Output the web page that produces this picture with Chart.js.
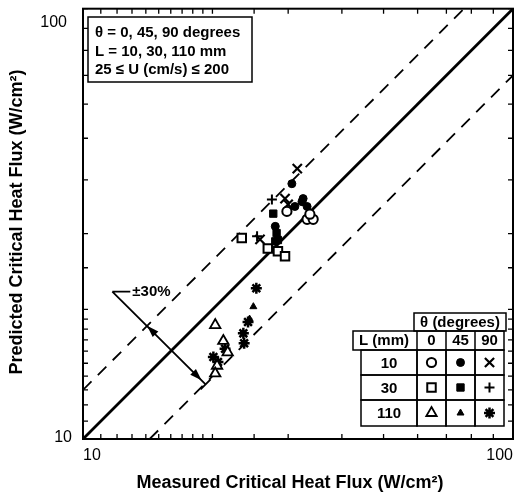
<!DOCTYPE html>
<html>
<head>
<meta charset="utf-8">
<script src="https://cdn.jsdelivr.net/npm/chart.js"></script>
<style>
html,body{margin:0;padding:0;background:#fff;}
canvas{display:block;}
</style>
</head>
<body>
<canvas id="c" width="522" height="492"></canvas>
<script>
// ---- data (measured, predicted) in W/cm^2 ----
const L10_T0   = [[29.8,33.8],[33.2,32.4],[34.3,32.4],[33.7,33.3]];
const L10_T45  = [[31.1,34.7],[32.5,36.2],[33.2,34.7],[32.3,35.6],[28.0,31.2],[30.6,39.2]];
const L10_T90  = [[31.5,42.5],[29.5,36.2],[30.0,35.1],[25.8,29.1]];
const L30_T0   = [[23.4,29.3],[26.9,27.7],[28.4,27.3],[29.5,26.6]];
const L30_T45  = [[27.7,33.4],[28.2,30.1],[28.0,28.8],[28.4,29.0]];
const L30_T90  = [[27.5,36.0],[25.4,29.6]];
const L110_T0  = [[20.3,18.4],[21.2,16.9],[21.7,15.9],[20.5,14.8],[20.3,14.2]];
const L110_T45 = [[24.9,20.3],[24.4,19.0]];
const L110_T90 = [[25.3,22.4],[24.2,18.7],[23.6,17.6],[23.7,16.7],[21.4,16.2],[20.1,15.5],[20.6,15.1]];

// reference lines: perfect agreement and +/-30 %
const lineExact = [[10,10],[100,100]];
const lineUpper = [[10,13],[76.92,100]];
const lineLower = [[14.29,10],[100,70]];

// axis
const axisMin = 10, axisMax = 100;
const tickLabels = [10, 100];

// text
const xTitle = 'Measured Critical Heat Flux (W/cm²)';
const yTitle = 'Predicted Critical Heat Flux (W/cm²)';
const infoLines = ['θ = 0, 45, 90 degrees', 'L = 10, 30, 110 mm', '25 ≤ U (cm/s) ≤ 200'];
const bandLabel = '±30%';
// band arrow (data coords): start, tip on upper line, tip on lower line
const bandStart = [11.7, 22.0];
const bandTipUp = [14.09, 18.33];
const bandTipDown = [19.28, 13.4];
const lengthsMM = ['10', '30', '110'];
const anglesDeg = ['0', '45', '90'];

const FONT = '"Liberation Sans", Arial, Helvetica, sans-serif';

function pts(a){ return a.map(p => ({x:p[0], y:p[1]})); }

const styles = [
  {data:L10_T0,   pointStyle:'circle',   r:4.6, fill:'#fff', bw:2},
  {data:L10_T45,  pointStyle:'circle',   r:4.0, fill:'#000', bw:1},
  {data:L10_T90,  pointStyle:'crossRot', r:6.5, fill:'#000', bw:2.2},
  {data:L30_T0,   pointStyle:'rect',     r:6.0, fill:'#fff', bw:2},
  {data:L30_T45,  pointStyle:'rect',     r:5.2, fill:'#000', bw:1},
  {data:L30_T90,  pointStyle:'cross',    r:5.0, fill:'#000', bw:2},
  {data:L110_T0,  pointStyle:'triangle', r:6.0, fill:'#fff', bw:1.8},
  {data:L110_T45, pointStyle:'triangle', r:4.0, fill:'#000', bw:1},
  {data:L110_T90, pointStyle:'star',     r:5.5, fill:'#000', bw:2.5}
];

const datasets = styles.map(s => ({
  data: pts(s.data),
  pointStyle: s.pointStyle,
  pointRadius: s.r,
  pointBackgroundColor: s.fill,
  pointBorderColor: '#000',
  pointBorderWidth: s.bw,
  showLine: false
}));
datasets.push({data: pts(lineExact), showLine:true, pointRadius:0, borderColor:'#000', borderWidth:2.8});
datasets.push({data: pts(lineUpper), showLine:true, pointRadius:0, borderColor:'#000', borderWidth:1.8, borderDash:[12,9]});
datasets.push({data: pts(lineLower), showLine:true, pointRadius:0, borderColor:'#000', borderWidth:1.8, borderDash:[12,9]});

function marker(ctx, s, x, y){
  ctx.save();
  ctx.fillStyle = s.fill; ctx.strokeStyle = '#000'; ctx.lineWidth = s.bw;
  if (Chart.helpers && Chart.helpers.drawPoint) {
    Chart.helpers.drawPoint(ctx, {pointStyle:s.pointStyle, radius:s.r, borderWidth:s.bw, rotation:0}, x, y);
  }
  ctx.restore();
}

const decor = {
  id:'decor',
  afterDatasetsDraw(chart){
    const ctx = chart.ctx, a = chart.chartArea;
    const xs = chart.scales.x, ys = chart.scales.y;
    ctx.save();
    // frame
    ctx.strokeStyle = '#000'; ctx.lineWidth = 2;
    ctx.strokeRect(a.left, a.top, a.right - a.left, a.bottom - a.top);
    // inward minor ticks
    ctx.lineWidth = 1.3;
    const tl = 5;
    xs.ticks.forEach(t => {
      const px = xs.getPixelForValue(t.value);
      ctx.beginPath();
      ctx.moveTo(px, a.bottom); ctx.lineTo(px, a.bottom - tl);
      ctx.moveTo(px, a.top); ctx.lineTo(px, a.top + tl);
      ctx.stroke();
    });
    ys.ticks.forEach(t => {
      const py = ys.getPixelForValue(t.value);
      ctx.beginPath();
      ctx.moveTo(a.left, py); ctx.lineTo(a.left + tl, py);
      ctx.moveTo(a.right, py); ctx.lineTo(a.right - tl, py);
      ctx.stroke();
    });
    // y tick labels
    ctx.fillStyle = '#000';
    ctx.font = '16px ' + FONT;
    ctx.textAlign = 'right'; ctx.textBaseline = 'middle';
    ctx.fillText(String(tickLabels[1]), a.left - 16, ys.getPixelForValue(tickLabels[1]) + 14);
    ctx.fillText(String(tickLabels[0]), a.left - 11, ys.getPixelForValue(tickLabels[0]) - 1);
    // axis titles
    ctx.font = 'bold 18px ' + FONT;
    ctx.textAlign = 'center';
    ctx.fillText(xTitle, 290, 483);
    ctx.save();
    ctx.translate(17, 222);
    ctx.rotate(-Math.PI/2);
    ctx.fillText(yTitle, 0, 0);
    ctx.restore();

    // info box
    ctx.lineWidth = 1.5;
    ctx.fillStyle = '#fff';
    ctx.fillRect(88, 17, 164, 65);
    ctx.strokeRect(88, 17, 164, 65);
    ctx.fillStyle = '#000';
    ctx.font = 'bold 15px ' + FONT;
    ctx.textAlign = 'left';
    [33, 52, 70].forEach((y, i) => ctx.fillText(infoLines[i], 95, y));

    // +-30% arrow
    const P = p => [xs.getPixelForValue(p[0]), ys.getPixelForValue(p[1])];
    const s0 = P(bandStart), tu = P(bandTipUp), td = P(bandTipDown);
    ctx.lineWidth = 1.8;
    ctx.beginPath();
    ctx.moveTo(s0[0], s0[1]); ctx.lineTo(s0[0] + 18, s0[1]);
    ctx.moveTo(s0[0], s0[1]); ctx.lineTo(td[0], td[1]);
    ctx.stroke();
    function arrow(tip, from){
      const ang = Math.atan2(tip[1]-from[1], tip[0]-from[0]);
      const L = 12, W = 4;
      ctx.beginPath();
      ctx.moveTo(tip[0], tip[1]);
      ctx.lineTo(tip[0] - L*Math.cos(ang) + W*Math.sin(ang), tip[1] - L*Math.sin(ang) - W*Math.cos(ang));
      ctx.lineTo(tip[0] - L*Math.cos(ang) - W*Math.sin(ang), tip[1] - L*Math.sin(ang) + W*Math.cos(ang));
      ctx.closePath(); ctx.fill();
    }
    arrow(tu, td);
    const tdIn = [td[0] - 4, td[1] - 4];
    arrow(tdIn, tu);
    // small end bar
    ctx.beginPath();
    ctx.moveTo(td[0] - 5, td[1] + 5); ctx.lineTo(td[0] + 5, td[1] - 5);
    ctx.stroke();
    ctx.font = 'bold 15px ' + FONT;
    ctx.textAlign = 'left';
    ctx.fillText(bandLabel, s0[0] + 20, s0[1]);

    // legend table
    const cols = [417, 446, 475, 504];
    const rows = [350, 375, 400, 426];
    ctx.lineWidth = 1.5;
    ctx.fillStyle = '#fff';
    ctx.fillRect(414, 313, 92, 18);
    ctx.fillRect(353, 331, 151, 19);
    ctx.fillRect(361, 350, 143, 76);
    ctx.strokeRect(414, 313, 92, 18);
    ctx.strokeRect(353, 331, 151, 19);
    for (let i = 0; i < 3; i++) {
      ctx.strokeRect(361, rows[i], cols[0]-361, rows[i+1]-rows[i]);
      for (let j = 0; j < 3; j++) ctx.strokeRect(cols[j], rows[i], cols[j+1]-cols[j], rows[i+1]-rows[i]);
    }
    ctx.beginPath();
    for (let j = 0; j < 3; j++) { ctx.moveTo(cols[j], 331); ctx.lineTo(cols[j], 350); }
    ctx.stroke();
    ctx.fillStyle = '#000';
    ctx.textAlign = 'center';
    ctx.font = 'bold 15px ' + FONT;
    ctx.fillText('θ (degrees)', 460, 322.5);
    ctx.fillText('L (mm)', 384, 341);
    for (let j = 0; j < 3; j++) ctx.fillText(anglesDeg[j], (cols[j]+cols[j+1])/2, 341);
    for (let i = 0; i < 3; i++) {
      const cy = (rows[i] + rows[i+1]) / 2;
      ctx.fillText(lengthsMM[i], 389, cy + 1);
      for (let j = 0; j < 3; j++) marker(ctx, styles[i*3 + j], (cols[j]+cols[j+1])/2, cy);
    }
    ctx.restore();
  }
};

new Chart(document.getElementById('c'), {
  type: 'scatter',
  data: {datasets},
  options: {
    responsive: false,
    animation: false,
    devicePixelRatio: 1,
    layout: {padding: {left: 0, right: 9, top: 6, bottom: 0}},
    plugins: {legend: {display: false}, tooltip: {enabled: false}},
    scales: {
      x: {
        type: 'logarithmic', min: axisMin, max: axisMax, position: 'bottom',
        grid: {display: false, drawTicks: false},
        border: {display: false},
        ticks: {
          autoSkip: false, maxRotation: 0, minRotation: 0, align: 'inner', padding: 7,
          color: '#000', font: {size: 16, family: FONT},
          callback: v => tickLabels.includes(v) ? String(v) : ''
        },
        afterFit: s => { s.height = 53; }
      },
      y: {
        type: 'logarithmic', min: axisMin, max: axisMax, position: 'left',
        grid: {display: false, drawTicks: false},
        border: {display: false},
        ticks: {display: false, autoSkip: false},
        afterFit: s => { s.width = 83; }
      }
    }
  },
  plugins: [decor]
});
</script>
</body>
</html>
